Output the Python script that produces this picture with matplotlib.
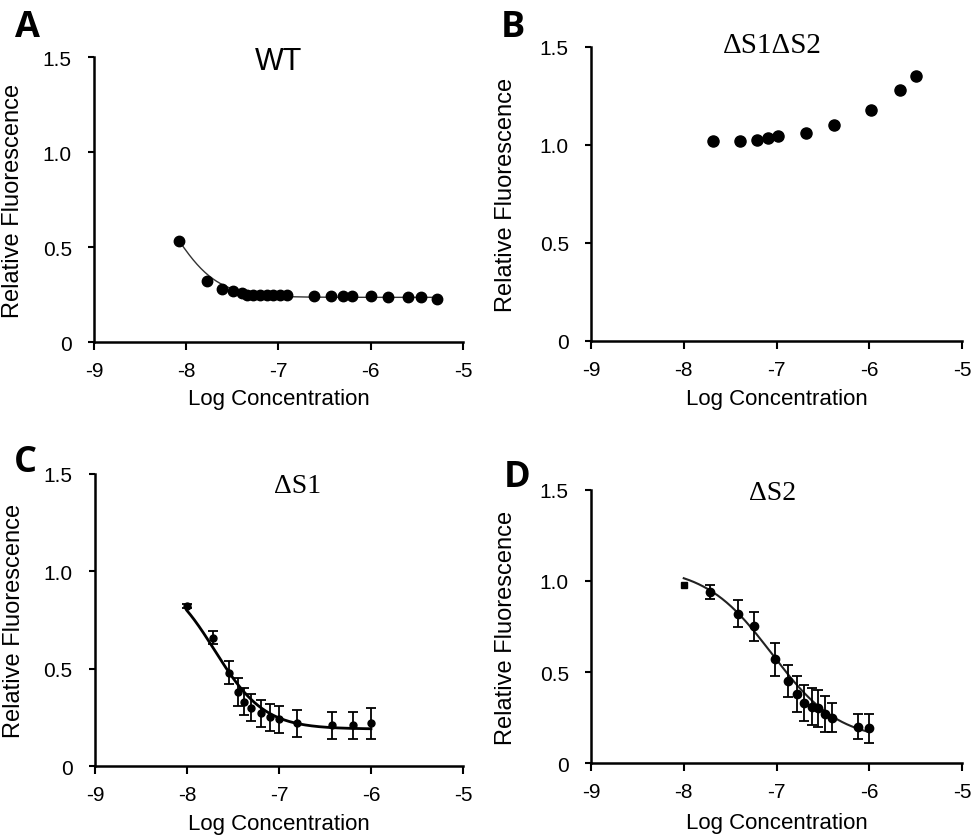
import numpy as np
import matplotlib
matplotlib.use('Agg')
import matplotlib.pyplot as plt

plt.rcParams['font.family'] = ['Liberation Sans', 'DejaVu Sans']
plt.rcParams['axes.unicode_minus'] = False

# panel A: WT
wt_x = [-8.08, -7.78, -7.61, -7.49, -7.40, -7.34, -7.28, -7.20, -7.12, -7.06,
        -6.98, -6.91, -6.62, -6.43, -6.30, -6.20, -6.00, -5.81, -5.60, -5.45, -5.28]
wt_y = [0.53, 0.32, 0.28, 0.27, 0.26, 0.25, 0.25, 0.25, 0.25, 0.25,
        0.25, 0.25, 0.24, 0.24, 0.24, 0.24, 0.24, 0.235, 0.235, 0.235, 0.225]
wt_fit = dict(bottom=0.235, top=0.935, logec50=-8.15, hill=1.8)

# panel B: dS1dS2
b_x = [-7.69, -7.39, -7.21, -7.09, -6.98, -6.68, -6.38, -5.98, -5.67, -5.50]
b_y = [1.02, 1.02, 1.025, 1.035, 1.047, 1.06, 1.10, 1.18, 1.28, 1.35]

# panel C: dS1
c_x = [-8.00, -7.72, -7.54, -7.45, -7.38, -7.30, -7.20, -7.10, -7.00, -6.80, -6.42, -6.20, -6.00]
c_y = [0.82, 0.66, 0.48, 0.38, 0.33, 0.30, 0.27, 0.25, 0.24, 0.22, 0.21, 0.21, 0.22]
c_err = [0.01, 0.035, 0.06, 0.07, 0.07, 0.07, 0.07, 0.07, 0.07, 0.07, 0.07, 0.07, 0.08]
c_fit = dict(bottom=0.19, top=1.0, logec50=-7.7, hill=1.6)

# panel D: dS2
d_x = [-8.00, -7.72, -7.42, -7.24, -7.02, -6.88, -6.78, -6.70, -6.62, -6.55, -6.48, -6.40, -6.12, -6.00]
d_y = [0.98, 0.94, 0.82, 0.75, 0.57, 0.45, 0.38, 0.33, 0.31, 0.30, 0.27, 0.25, 0.20, 0.19]
d_err = [0.02, 0.04, 0.075, 0.08, 0.09, 0.09, 0.10, 0.10, 0.10, 0.10, 0.10, 0.08, 0.07, 0.08]
d_fit = dict(bottom=0.12, top=1.08, logec50=-7.05, hill=1.2)

x_ticks = [-9, -8, -7, -6, -5]
y_ticks = [0, 0.5, 1.0, 1.5]
y_ticklabels = ['0', '0.5', '1.0', '1.5']


def four_pl(x, bottom, top, logec50, hill):
    return bottom + (top - bottom) / (1 + 10 ** ((x - logec50) * hill))


def style_axis(ax, ylab_x, xlab_y):
    for s in ['top', 'right']:
        ax.spines[s].set_visible(False)
    for s in ['left', 'bottom']:
        ax.spines[s].set_linewidth(1.8)
    ax.set_xlim(-9, -5)
    ax.set_ylim(0, 1.5)
    ax.set_xticks(x_ticks)
    ax.set_xticklabels([str(t) for t in x_ticks])
    ax.set_yticks(y_ticks)
    ax.set_yticklabels(y_ticklabels)
    ax.tick_params(axis='y', direction='out', length=4, width=1.5, pad=12, labelsize=15)
    ax.tick_params(axis='x', direction='out', length=6, width=1.5, pad=8, labelsize=15)
    ax.set_ylabel('Relative Fluorescence', fontsize=17)
    ax.set_xlabel('Log Concentration', fontsize=16)
    ax.yaxis.set_label_coords(ylab_x, 0.5)
    ax.xaxis.set_label_coords(0.5, xlab_y)


fig = plt.figure(figsize=(9.73, 8.37), dpi=100)
ax_a = fig.add_axes([0.0966, 0.5902, 0.3792, 0.3405])
ax_b = fig.add_axes([0.6074, 0.5914, 0.3813, 0.3513])
ax_c = fig.add_axes([0.0976, 0.0836, 0.3782, 0.3489])
ax_d = fig.add_axes([0.6074, 0.0872, 0.3813, 0.3262])

# A
xs = np.linspace(wt_x[0], wt_x[-1], 200)
ax_a.plot(xs, four_pl(xs, **wt_fit), color='#333333', lw=1.0)
ax_a.plot(wt_x, wt_y, 'o', color='black', ms=7.5)
ax_a.text(0.5, 0.985, 'WT', transform=ax_a.transAxes, ha='center', va='center', fontsize=22)
style_axis(ax_a, -0.19, -0.16)

# B
ax_b.plot(b_x, b_y, 'o', color='black', ms=8)
ax_b.text(0.49, 1.005, 'ΔS1ΔS2', transform=ax_b.transAxes, ha='center', va='center',
          fontsize=21, family=['Liberation Serif', 'DejaVu Serif'])
style_axis(ax_b, -0.2, -0.16)

# C
xs = np.linspace(c_x[0], c_x[-1], 200)
ax_c.plot(xs, four_pl(xs, **c_fit), color='black', lw=2.0)
ax_c.errorbar(c_x, c_y, yerr=c_err, fmt='o', color='black', ms=5, capsize=3.5,
              elinewidth=1.3, capthick=1.3)
ax_c.text(0.55, 0.96, 'ΔS1', transform=ax_c.transAxes, ha='center', va='center',
          fontsize=20, family=['Liberation Serif', 'DejaVu Serif'])
style_axis(ax_c, -0.19, -0.16)

# D
xs = np.linspace(d_x[0], d_x[-1], 200)
ax_d.plot(xs, four_pl(xs, **d_fit), color='#222222', lw=1.5)
ax_d.errorbar(d_x[1:], d_y[1:], yerr=d_err[1:], fmt='o', color='black', ms=6, capsize=3.5,
              elinewidth=1.3, capthick=1.3)
ax_d.plot(d_x[:1], d_y[:1], 's', color='black', ms=5)
ax_d.text(0.49, 0.99, 'ΔS2', transform=ax_d.transAxes, ha='center', va='center',
          fontsize=20, family=['Liberation Serif', 'DejaVu Serif'])
style_axis(ax_d, -0.2, -0.18)

# panel letters
for lab, px, py in [('A', 27, 28), ('B', 513, 28), ('C', 25, 463), ('D', 517, 478)]:
    fig.text(px / 973, 1 - py / 837, lab, fontsize=26, fontweight='bold',
             ha='center', va='center', family=['Open Sans', 'DejaVu Sans'])

fig.savefig('out.png', dpi=100, facecolor='white')
